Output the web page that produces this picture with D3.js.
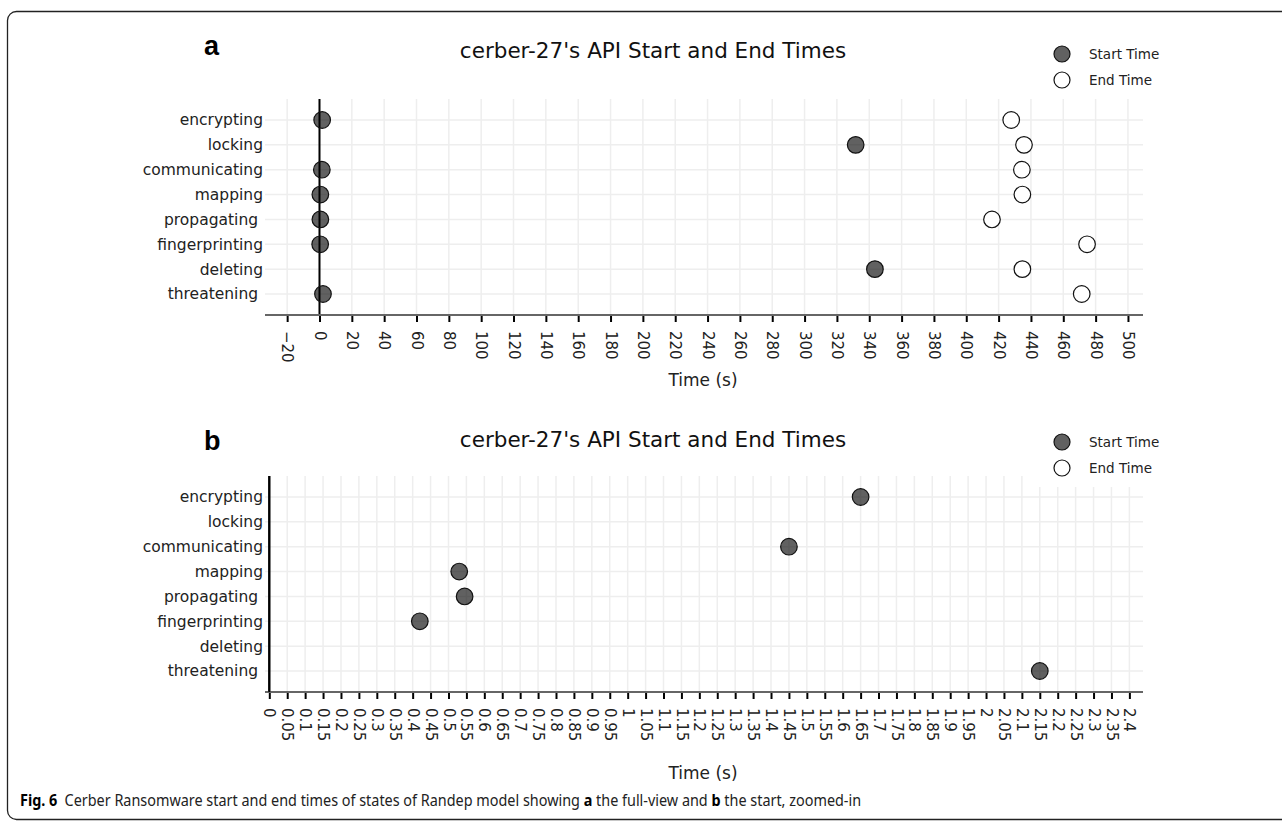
<!DOCTYPE html>
<html>
<head>
<meta charset="utf-8">
<script src="https://cdn.jsdelivr.net/npm/d3@7"></script>
<style>
  body { margin: 0; background: #fff; }
  svg text { font-family: "DejaVu Sans", Verdana, sans-serif; }
  .ylab text { white-space: pre; }
</style>
</head>
<body>
<svg id="chart" width="1282" height="822"></svg>
<script>
// states of the Randep model (trailing spaces as in the source labels)
const categories = ["encrypting", "locking", "communicating", "mapping", "propagating ", "fingerprinting", "deleting", "threatening "];
// seconds
const startTimes = [1.65, 331.6, 1.45, 0.53, 0.545, 0.42, 343.5, 2.15];
const endTimes = [427.8, 435.7, 434.4, 434.7, 415.9, 474.7, 434.7, 471.4];
const ticksFull = d3.range(-20, 501, 20);
const ticksZoom = d3.range(0, 49).map((i) => +(i * 0.05).toFixed(2));
const legendLabels = ["Start Time", "End Time"];
const chartTitle = "cerber-27's API Start and End Times";

const svg = d3.select("#chart");

// frame round the figure
svg.append("rect")
  .attr("x", 7.5).attr("y", 11.5)
  .attr("width", 1300).attr("height", 808)
  .attr("rx", 9)
  .attr("fill", "none").attr("stroke", "#222").attr("stroke-width", 1.3);

let plotLeft = 265;
let plotRight = 1143;

function drawPanel(opt) {
  let g = svg.append("g");
  let top = opt.top;
  let bottom = opt.top + 216;

  let x = d3.scaleLinear().domain(opt.domain).range([plotLeft, plotRight]);
  let y = d3.scalePoint().domain(categories).range([top + 21, bottom - 21]);

  let clipId = "clip-" + opt.letter;
  g.append("clipPath").attr("id", clipId)
    .append("rect")
    .attr("x", plotLeft).attr("y", top - 12)
    .attr("width", plotRight - plotLeft).attr("height", bottom - top + 24);

  // grid
  g.append("g").selectAll("line")
    .data(opt.ticks)
    .join("line")
    .attr("x1", (d) => x(d)).attr("x2", (d) => x(d))
    .attr("y1", top).attr("y2", bottom)
    .attr("stroke", "#eeeeee").attr("stroke-width", 1.5);
  g.append("g").selectAll("line")
    .data(categories)
    .join("line")
    .attr("x1", plotLeft).attr("x2", plotRight)
    .attr("y1", (d) => y(d)).attr("y2", (d) => y(d))
    .attr("stroke", "#eeeeee").attr("stroke-width", 1.5);

  // legend box hides part of the grid
  if (opt.legendBox) {
    g.append("rect")
      .attr("x", 1030).attr("y", opt.legendY - 14)
      .attr("width", 200).attr("height", 59)
      .attr("fill", "#fff");
  }

  // zero line
  g.append("line")
    .attr("x1", x(0)).attr("x2", x(0))
    .attr("y1", top).attr("y2", bottom)
    .attr("stroke", "#000").attr("stroke-width", 2);

  // x axis
  let axisX = d3.axisBottom(x)
    .tickValues(opt.ticks)
    .tickSize(7)
    .tickFormat(opt.format);
  let ax = g.append("g")
    .attr("transform", `translate(0, ${bottom})`)
    .call(axisX);
  ax.select(".domain").remove();
  ax.selectAll(".tick line").attr("stroke", "#000").attr("stroke-width", 2);
  ax.selectAll(".tick text")
    .attr("transform", "rotate(90)")
    .attr("x", 16).attr("y", 0).attr("dy", "0.36em")
    .style("text-anchor", "start")
    .style("font-family", '"DejaVu Sans", Verdana, sans-serif')
    .style("font-size", "15px")
    .attr("fill", "#222");
  g.append("line")
    .attr("x1", plotLeft).attr("x2", plotRight)
    .attr("y1", bottom).attr("y2", bottom)
    .attr("stroke", "#666").attr("stroke-width", 2);

  // y axis labels
  let axisY = d3.axisLeft(y).tickSize(0).tickPadding(2);
  let ay = g.append("g")
    .attr("class", "ylab")
    .attr("transform", `translate(${plotLeft}, 0)`)
    .call(axisY);
  ay.select(".domain").remove();
  ay.selectAll(".tick text")
    .style("font-family", '"DejaVu Sans", Verdana, sans-serif')
    .style("font-size", "15.5px")
    .attr("fill", "#222");

  // points
  let marks = g.append("g").attr("clip-path", `url(#${clipId})`);
  marks.selectAll(".start")
    .data(categories)
    .join("circle")
    .attr("class", "start")
    .attr("cx", (d, i) => x(startTimes[i]))
    .attr("cy", (d) => y(d))
    .attr("r", 8.3)
    .attr("fill", "#000").attr("fill-opacity", 0.62)
    .attr("stroke", "#111").attr("stroke-width", 1.2);
  marks.selectAll(".end")
    .data(categories)
    .join("circle")
    .attr("class", "end")
    .attr("cx", (d, i) => x(endTimes[i]))
    .attr("cy", (d) => y(d))
    .attr("r", 8.3)
    .attr("fill", "#fff")
    .attr("stroke", "#111").attr("stroke-width", 1.2);

  // axis title
  g.append("text")
    .attr("x", 703).attr("y", opt.axisTitleY)
    .attr("text-anchor", "middle")
    .style("font-size", "17px")
    .attr("fill", "#222")
    .text("Time (s)");

  // chart title and panel letter
  g.append("text")
    .attr("x", 653).attr("y", opt.titleY)
    .attr("text-anchor", "middle")
    .style("font-size", "21.5px")
    .attr("fill", "#111")
    .text(chartTitle);
  g.append("text")
    .attr("x", 204).attr("y", opt.letterY)
    .style("font-family", '"Liberation Sans", Arial, sans-serif')
    .style("font-size", "27px")
    .style("font-weight", "bold")
    .attr("fill", "#000")
    .text(opt.letter);

  // legend
  let leg = g.append("g");
  leg.selectAll("circle")
    .data(legendLabels)
    .join("circle")
    .attr("cx", 1062)
    .attr("cy", (d, i) => opt.legendY + i * 26)
    .attr("r", 8)
    .attr("fill", (d, i) => (i === 0 ? "#000" : "#fff"))
    .attr("fill-opacity", (d, i) => (i === 0 ? 0.62 : 1))
    .attr("stroke", "#111").attr("stroke-width", 1.2);
  leg.selectAll("text")
    .data(legendLabels)
    .join("text")
    .attr("x", 1089)
    .attr("y", (d, i) => opt.legendY + i * 26)
    .attr("dy", "0.36em")
    .style("font-size", "13.5px")
    .attr("fill", "#222")
    .text((d) => d);
}

drawPanel({
  letter: "a",
  top: 99,
  domain: [-33.7, 509.3],
  ticks: ticksFull,
  format: (d) => (d < 0 ? "\u2212" + Math.abs(d) : String(d)),
  titleY: 58,
  letterY: 55,
  legendY: 54,
  axisTitleY: 386,
  legendBox: false
});

drawPanel({
  letter: "b",
  top: 476,
  domain: [-0.012, 2.438],
  ticks: ticksZoom,
  format: (d) => String(d),
  titleY: 447,
  letterY: 450,
  legendY: 442,
  axisTitleY: 779,
  legendBox: true
});

// left axis line of the zoomed panel sits on x = 0
svg.append("line")
  .attr("x1", 269.3).attr("x2", 269.3)
  .attr("y1", 476).attr("y2", 692)
  .attr("stroke", "#000").attr("stroke-width", 2);

// caption
let cap = svg.append("text")
  .attr("x", 0).attr("y", 0)
  .style("font-family", '"Noto Sans", "Open Sans", sans-serif')
  .style("font-size", "15.5px")
  .attr("fill", "#222");
cap.append("tspan").style("font-weight", "bold").attr("fill", "#000").text("Fig. 6");
cap.append("tspan").text("\u2002Cerber Ransomware start and end times of states of Randep model showing ");
cap.append("tspan").style("font-weight", "bold").attr("fill", "#000").text("a");
cap.append("tspan").text(" the full-view and ");
cap.append("tspan").style("font-weight", "bold").attr("fill", "#000").text("b");
cap.append("tspan").text(" the start, zoomed-in");
let capW = cap.node().getComputedTextLength();
let sx = 842 / capW;
cap.attr("transform", `translate(20, 806) scale(${sx}, 1)`);
</script>
</body>
</html>
